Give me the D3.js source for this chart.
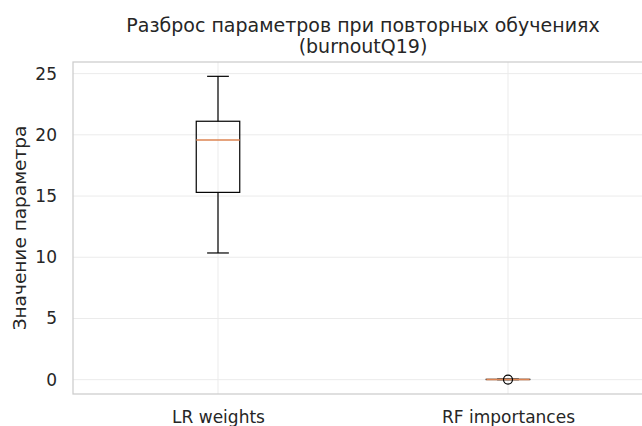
<!DOCTYPE html>
<html>
<head>
<meta charset="utf-8">
<script src="https://cdn.jsdelivr.net/npm/d3@7"></script>
<style>
  html, body { margin: 0; padding: 0; background: #fff; }
  svg { display: block; font-family: "DejaVu Sans", sans-serif; }
</style>
</head>
<body>
<svg id="chart" width="642" height="426"></svg>
<script>
// Box plot summary per model: whiskers, quartiles, median, outliers
const categories = ["LR weights", "RF importances"];
const whiskerLow  = [10.35, 0.000];
const q1          = [15.30, 0.012];
const median      = [19.58, 0.020];
const q3          = [21.11, 0.028];
const whiskerHigh = [24.78, 0.045];
const outliers    = [[], [0.010]];
const yTicks = [0, 5, 10, 15, 20, 25];

const titleLines = ["Разброс параметров при повторных обучениях", "(burnoutQ19)"];
const yLabel = "Значение параметра";

const svg = d3.select("#chart");
const margin = { left: 73, top: 62, right: -11, bottom: 32 };
const W = 642, H = 426;
const x0 = margin.left, x1 = W - margin.right;
const y0 = H - margin.bottom, y1 = margin.top;

// positions 1..n with half-unit padding on each side
const x = d3.scaleLinear().domain([0.5, categories.length + 0.5]).range([x0, x1]);
const y = d3.scaleLinear().domain([-1.17, 25.95]).range([y0, y1]);

const textColor = "#262626";
const gridColor = "#ebebeb";
const spineColor = "#cccccc";

const plot = svg.append("g");
svg.append("clipPath").attr("id", "plotclip")
  .append("rect").attr("x", x0).attr("y", y1).attr("width", x1 - x0).attr("height", y0 - y1);

// grid
const grid = plot.append("g").attr("clip-path", "url(#plotclip)");
grid.selectAll("line.h").data(yTicks).join("line")
  .attr("x1", x0).attr("x2", x1)
  .attr("y1", d => y(d)).attr("y2", d => y(d))
  .attr("stroke", gridColor).attr("stroke-width", 1);
grid.selectAll("line.v").data(categories).join("line")
  .attr("x1", (d, i) => x(i + 1)).attr("x2", (d, i) => x(i + 1))
  .attr("y1", y1).attr("y2", y0)
  .attr("stroke", gridColor).attr("stroke-width", 1);

// spines
plot.append("rect")
  .attr("x", x0).attr("y", y1).attr("width", x1 - x0).attr("height", y0 - y1)
  .attr("fill", "none").attr("stroke", spineColor).attr("stroke-width", 1.25);

// y axis labels
const yAxis = d3.axisLeft(y).tickValues(yTicks).tickSize(0).tickPadding(16);
const yg = svg.append("g").attr("transform", `translate(${x0},0)`).call(yAxis);
yg.select(".domain").remove();
yg.selectAll("text").attr("fill", textColor).style("font-size", "17px")
  .style("font-family", "DejaVu Sans, sans-serif");

// x axis labels
const xAxis = d3.axisBottom(x).tickValues(categories.map((d, i) => i + 1))
  .tickFormat((d) => categories[d - 1]).tickSize(0).tickPadding(17);
const xg = svg.append("g").attr("transform", `translate(0,${y0})`).call(xAxis);
xg.select(".domain").remove();
xg.selectAll("text").attr("fill", textColor).style("font-size", "17px")
  .style("font-family", "DejaVu Sans, sans-serif");

// boxes
const boxW = x(1.15) - x(1);
const capW = boxW / 2;
const boxes = plot.append("g").attr("clip-path", "url(#plotclip)");
categories.forEach((c, i) => {
  const cx = x(i + 1);
  const g = boxes.append("g");
  const stroke = "#000";
  // whiskers
  g.append("line").attr("x1", cx).attr("x2", cx)
    .attr("y1", y(q3[i])).attr("y2", y(whiskerHigh[i]))
    .attr("stroke", stroke).attr("stroke-width", 1.2);
  g.append("line").attr("x1", cx).attr("x2", cx)
    .attr("y1", y(q1[i])).attr("y2", y(whiskerLow[i]))
    .attr("stroke", stroke).attr("stroke-width", 1.2);
  // caps
  [whiskerHigh[i], whiskerLow[i]].forEach(v => {
    g.append("line").attr("x1", cx - capW / 2).attr("x2", cx + capW / 2)
      .attr("y1", y(v)).attr("y2", y(v))
      .attr("stroke", stroke).attr("stroke-width", 1.2);
  });
  // box
  g.append("rect")
    .attr("x", cx - boxW / 2).attr("width", boxW)
    .attr("y", y(q3[i])).attr("height", Math.max(0, y(q1[i]) - y(q3[i])))
    .attr("fill", "none").attr("stroke", stroke).attr("stroke-width", 1.2);
  // median
  g.append("line").attr("x1", cx - boxW / 2).attr("x2", cx + boxW / 2)
    .attr("y1", y(median[i])).attr("y2", y(median[i]))
    .attr("stroke", "#dd8452").attr("stroke-width", 1.4);
  // outliers
  g.selectAll("circle").data(outliers[i]).join("circle")
    .attr("cx", cx).attr("cy", d => y(d)).attr("r", 4.5)
    .attr("fill", "none").attr("stroke", stroke).attr("stroke-width", 1.2);
});

// title
const cxTitle = (x0 + x1) / 2;
svg.append("text").attr("x", cxTitle).attr("y", 32)
  .attr("text-anchor", "middle").attr("fill", textColor)
  .style("font-size", "19px").text(titleLines[0]);
svg.append("text").attr("x", cxTitle).attr("y", 53)
  .attr("text-anchor", "middle").attr("fill", textColor)
  .style("font-size", "19px").text(titleLines[1]);

// y label
svg.append("text")
  .attr("transform", `translate(26,${(y0 + y1) / 2}) rotate(-90)`)
  .attr("text-anchor", "middle").attr("fill", textColor)
  .style("font-size", "18.5px").text(yLabel);
</script>
</body>
</html>
